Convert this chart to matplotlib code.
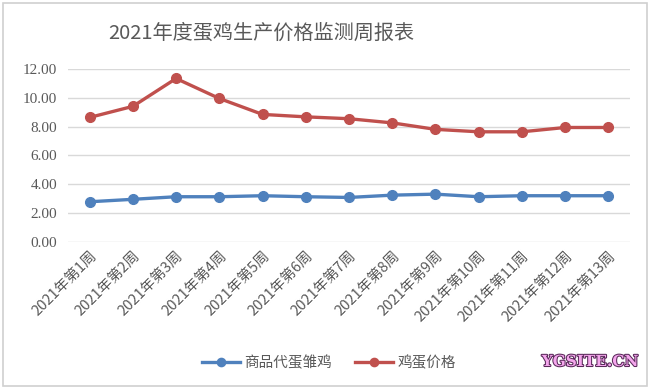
import matplotlib
matplotlib.use("Agg")
import matplotlib.pyplot as plt
import matplotlib.patheffects as pe
from matplotlib.patches import Rectangle

plt.rcParams['font.family'] = ['Noto Sans CJK SC', 'DejaVu Sans']

weeks = [f"2021年第{i}周" for i in range(1, 14)]
chick = [2.78, 2.95, 3.13, 3.13, 3.20, 3.13, 3.08, 3.24, 3.31, 3.13, 3.20, 3.20, 3.20]
egg = [8.65, 9.42, 11.36, 9.97, 8.86, 8.69, 8.56, 8.27, 7.82, 7.65, 7.65, 7.95, 7.95]
yticks = [0, 2, 4, 6, 8, 10, 12]

W, H = 650, 389
fig = plt.figure(figsize=(W / 100, H / 100), dpi=100)
ax = fig.add_axes([68 / W, (H - 241.7) / H, 562 / W, 172.4 / H])

x = range(len(weeks))
ax.plot(x, chick, color='#4F81BD', lw=2.4, marker='o', ms=7, label='商品代蛋雏鸡')
ax.plot(x, egg, color='#C0504D', lw=2.4, marker='o', ms=7, label='鸡蛋价格')

ax.set_xlim(-0.5, len(weeks) - 0.5)
ax.set_ylim(0, 12)
ax.set_yticks(yticks)
ax.set_yticklabels([f"{v:.2f}" for v in yticks], family='Liberation Serif',
                   fontsize=11, color='#595959')
ax.set_xticks(list(x))
ax.set_xticklabels(weeks, rotation=45, ha='right', rotation_mode='anchor',
                   fontsize=10.5, color='#595959')
ax.tick_params(length=0, pad=8)
ax.tick_params(axis='x', pad=5)
ax.grid(axis='y', color='#D9D9D9', lw=1)
ax.set_axisbelow(True)
for s in ax.spines.values():
    s.set_visible(False)

fig.text(261 / W, 1 - 33 / H, '2021年度蛋鸡生产价格监测周报表', ha='center', va='center',
         fontsize=14.5, color='#595959')

leg = fig.legend(loc='center', bbox_to_anchor=(329 / W, 1 - 363 / H), ncol=2,
                 frameon=False, fontsize=10.5, handlelength=2.6, columnspacing=1.6,
                 handletextpad=0.3, markerscale=0.85)
for t in leg.get_texts():
    t.set_color('#595959')

fig.text(590 / W, 1 - 362 / H, 'YGSITE.CN', ha='center', va='center', fontsize=11,
         family='DejaVu Serif', weight='bold', color='#F4A6EC',
         path_effects=[pe.withStroke(linewidth=1.5, foreground='#5A2A5A')])

fig.patches.append(Rectangle((3 / W, 3 / H), 644 / W, 383 / H, transform=fig.transFigure,
                             fill=False, edgecolor='#D0D0D0', lw=1.2))

fig.savefig('out.png', dpi=100)
